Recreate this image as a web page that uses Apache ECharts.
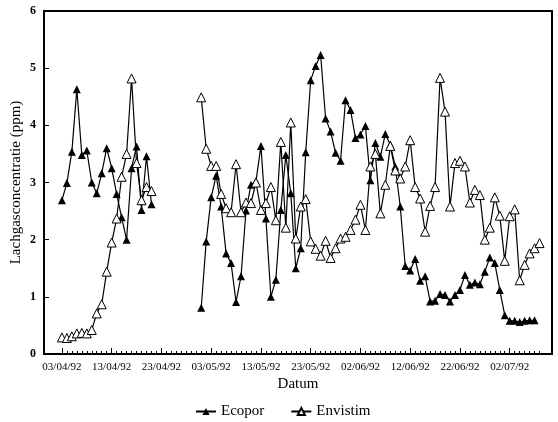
<!DOCTYPE html>
<html>
<head>
<meta charset="utf-8">
<script src="https://cdn.jsdelivr.net/npm/echarts@6/dist/echarts.min.js"></script>
<style>
  html, body { margin: 0; padding: 0; background: #fff; }
  #chart { width: 558px; height: 422px; }
</style>
</head>
<body>
<div id="chart"></div>
<script>
// Day 0 = 03/04/92; one measurement per day.
const tickLabels = ['03/04/92', '13/04/92', '23/04/92', '03/05/92', '13/05/92',
                    '23/05/92', '02/06/92', '12/06/92', '22/06/92', '02/07/92'];
const tickStep = 10;          // days between labelled ticks
const lastTickDay = 96;       // last daily tick mark

const aprilStart = 0;         // 03/04/92
const mayStart = 28;          // 01/05/92

const ecoporApril = [2.69, 2.99, 3.54, 4.63, 3.48, 3.56, 3.00, 2.81, 3.16, 3.60,
                     3.25, 2.80, 2.39, 2.00, 3.25, 3.63, 2.52, 3.46, 2.62];
const ecoporMayJuly = [0.81, 1.97, 2.74, 3.12, 2.58, 1.76, 1.59, 0.91, 1.36, 2.51,
                       2.96, 3.02, 3.64, 2.37, 1.00, 1.30, 2.52, 3.48, 2.81, 1.50,
                       1.85, 3.53, 4.79, 5.04, 5.23, 4.12, 3.89, 3.52, 3.38, 4.44,
                       4.27, 3.78, 3.84, 3.99, 3.04, 3.69, 3.45, 3.85, 3.66, 3.28,
                       2.58, 1.54, 1.46, 1.66, 1.28, 1.36, 0.92, 0.93, 1.05, 1.03,
                       0.92, 1.03, 1.12, 1.38, 1.21, 1.25, 1.22, 1.44, 1.69, 1.59,
                       1.12, 0.68, 0.58, 0.58, 0.56, 0.58, 0.59, 0.59];

const envistimApril = [0.29, 0.28, 0.31, 0.36, 0.37, 0.36, 0.42, 0.71, 0.87, 1.44,
                       1.95, 2.37, 3.10, 3.50, 4.82, 3.34, 2.69, 2.92, 2.85];
const envistimMayJuly = [4.49, 3.59, 3.29, 3.29, 2.80, 2.55, 2.48, 3.32, 2.48, 2.65,
                         2.64, 3.00, 2.52, 2.64, 2.92, 2.34, 3.71, 2.21, 4.05, 2.02,
                         2.58, 2.71, 1.97, 1.84, 1.72, 1.98, 1.68, 1.85, 2.02, 2.05,
                         2.17, 2.35, 2.61, 2.17, 3.28, 3.50, 2.46, 2.96, 3.64, 3.21,
                         3.07, 3.28, 3.74, 2.92, 2.72, 2.14, 2.59, 2.92, 4.83, 4.24,
                         2.58, 3.34, 3.38, 3.28, 2.65, 2.87, 2.78, 2.00, 2.21, 2.74,
                         2.42, 1.63, 2.41, 2.53, 1.29, 1.56, 1.76, 1.85, 1.94];

// Join the two measuring periods with an empty point so the line breaks.
function periods(first, firstStart, second, secondStart) {
  const pts = first.map((v, i) => [firstStart + i, v]);
  pts.push([firstStart + first.length, '-']);
  second.forEach((v, i) => pts.push([secondStart + i, v]));
  return pts;
}

const serif = 'Liberation Serif, Times New Roman, serif';
const dailyTicks = [];
for (let d = 0; d <= lastTickDay; d++) dailyTicks.push(d);
const labelTicks = tickLabels.map((_, i) => i * tickStep);
const xMin = -3.6, xMax = 98.5;

const chart = echarts.init(document.getElementById('chart'), null, { renderer: 'canvas' });
chart.setOption({
  animation: false,
  backgroundColor: '#fff',
  grid: {
    left: 44, right: 6, top: 11, bottom: 68,
    outerBoundsMode: 'none', containLabel: false,
    show: true, borderColor: '#000', borderWidth: 2, backgroundColor: 'transparent'
  },
  legend: {
    left: 190, top: 399,
    itemWidth: 20, itemHeight: 9, itemGap: 26,
    textStyle: { fontFamily: serif, fontSize: 15, color: '#000' },
    data: ['Ecopor', 'Envistim']
  },
  xAxis: [{
    type: 'value', position: 'bottom', min: xMin, max: xMax,
    name: 'Datum', nameLocation: 'middle', nameGap: 23, nameMoveOverlap: false,
    nameTextStyle: { fontFamily: serif, fontSize: 15, color: '#000' },
    axisLine: { onZero: false, lineStyle: { color: '#000', width: 2 } },
    axisTick: { inside: true, length: 3, customValues: dailyTicks, lineStyle: { color: '#000', width: 1 } },
    axisLabel: {
      customValues: labelTicks, margin: 8,
      fontFamily: serif, fontSize: 11, color: '#000',
      formatter: v => tickLabels[Math.round(v / tickStep)]
    },
    splitLine: { show: false }
  }, {
    type: 'value', position: 'bottom', min: xMin, max: xMax,
    axisLine: { show: false, onZero: false },
    axisTick: { inside: true, length: 6, customValues: labelTicks, lineStyle: { color: '#000', width: 1 } },
    axisLabel: { show: false },
    splitLine: { show: false }
  }],
  yAxis: {
    type: 'value', min: 0, max: 6, interval: 1,
    name: 'Lachgasconcentratie (ppm)', nameLocation: 'middle', nameGap: 20, nameMoveOverlap: false,
    nameTextStyle: { fontFamily: serif, fontSize: 15, color: '#000' },
    axisLine: { show: true, onZero: false, lineStyle: { color: '#000', width: 2 } },
    axisTick: { show: true, inside: true, length: 5, lineStyle: { color: '#000' } },
    axisLabel: { fontFamily: serif, fontSize: 12, fontWeight: 'bold', color: '#000', margin: 8 },
    splitLine: { show: false }
  },
  series: [{
    name: 'Ecopor', type: 'line', xAxisIndex: 0,
    data: periods(ecoporApril, aprilStart, ecoporMayJuly, mayStart),
    connectNulls: false,
    symbol: 'triangle', symbolSize: 8,
    lineStyle: { color: '#000', width: 1.2 },
    itemStyle: { color: '#000', borderColor: '#000', borderWidth: 0 },
    z: 2
  }, {
    name: 'Envistim', type: 'line', xAxisIndex: 0,
    data: periods(envistimApril, aprilStart, envistimMayJuly, mayStart),
    connectNulls: false,
    symbol: 'triangle', symbolSize: 9,
    lineStyle: { color: '#000', width: 1.2 },
    itemStyle: { color: '#fff', borderColor: '#000', borderWidth: 1 },
    z: 3
  }]
});
</script>
</body>
</html>
